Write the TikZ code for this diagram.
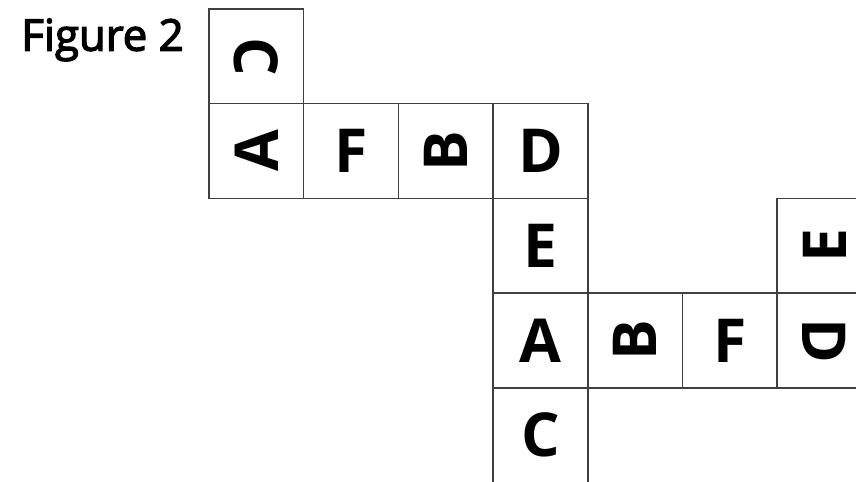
\documentclass[tikz,border=0pt]{standalone}
\usepackage{fontspec}
\newfontfamily\figfont{Open Sans}
\newfontfamily\labfont{Open Sans}[FakeBold=3]
\tikzset{
  cell/.style={draw=black!75, line width=0.03cm, minimum size=1.894cm, inner sep=0pt,
    font=\figfont\bfseries\fontsize{34.5}{34.5}\selectfont},
  title/.style={inner sep=0pt, anchor=base west, font=\labfont\fontsize{24.9}{24.9}\selectfont}
}
\begin{document}
\begin{tikzpicture}[x=0.02cm,y=-0.02cm]
\useasboundingbox (0,0) rectangle (856,482);
\clip (0,0) rectangle (856,482);
\node[title] (fig) at (21,50.7) {Figure 2};
% row 0
\node[cell] (c00) at (256.35,56.35) {\rotatebox{-90}{C}};
% row 1
\node[cell] (c10) at (256.35,151.05) {\rotatebox{90}{A}};
\node[cell] (c11) at (351.05,151.05) {F};
\node[cell] (c12) at (445.75,151.05) {\rotatebox{90}{B}};
\node[cell] (c13) at (540.45,151.05) {D};
% row 2
\node[cell] (c23) at (540.45,245.75) {E};
\node[cell] (c26) at (824.55,245.75) {\rotatebox{90}{E}};
% row 3
\node[cell] (c33) at (540.45,340.45) {A};
\node[cell] (c34) at (635.15,340.45) {\rotatebox{90}{B}};
\node[cell] (c35) at (729.85,340.45) {F};
\node[cell] (c36) at (824.55,340.45) {\rotatebox{-90}{D}};
% row 4
\node[cell] (c43) at (540.45,435.15) {C};
\end{tikzpicture}
\end{document}
